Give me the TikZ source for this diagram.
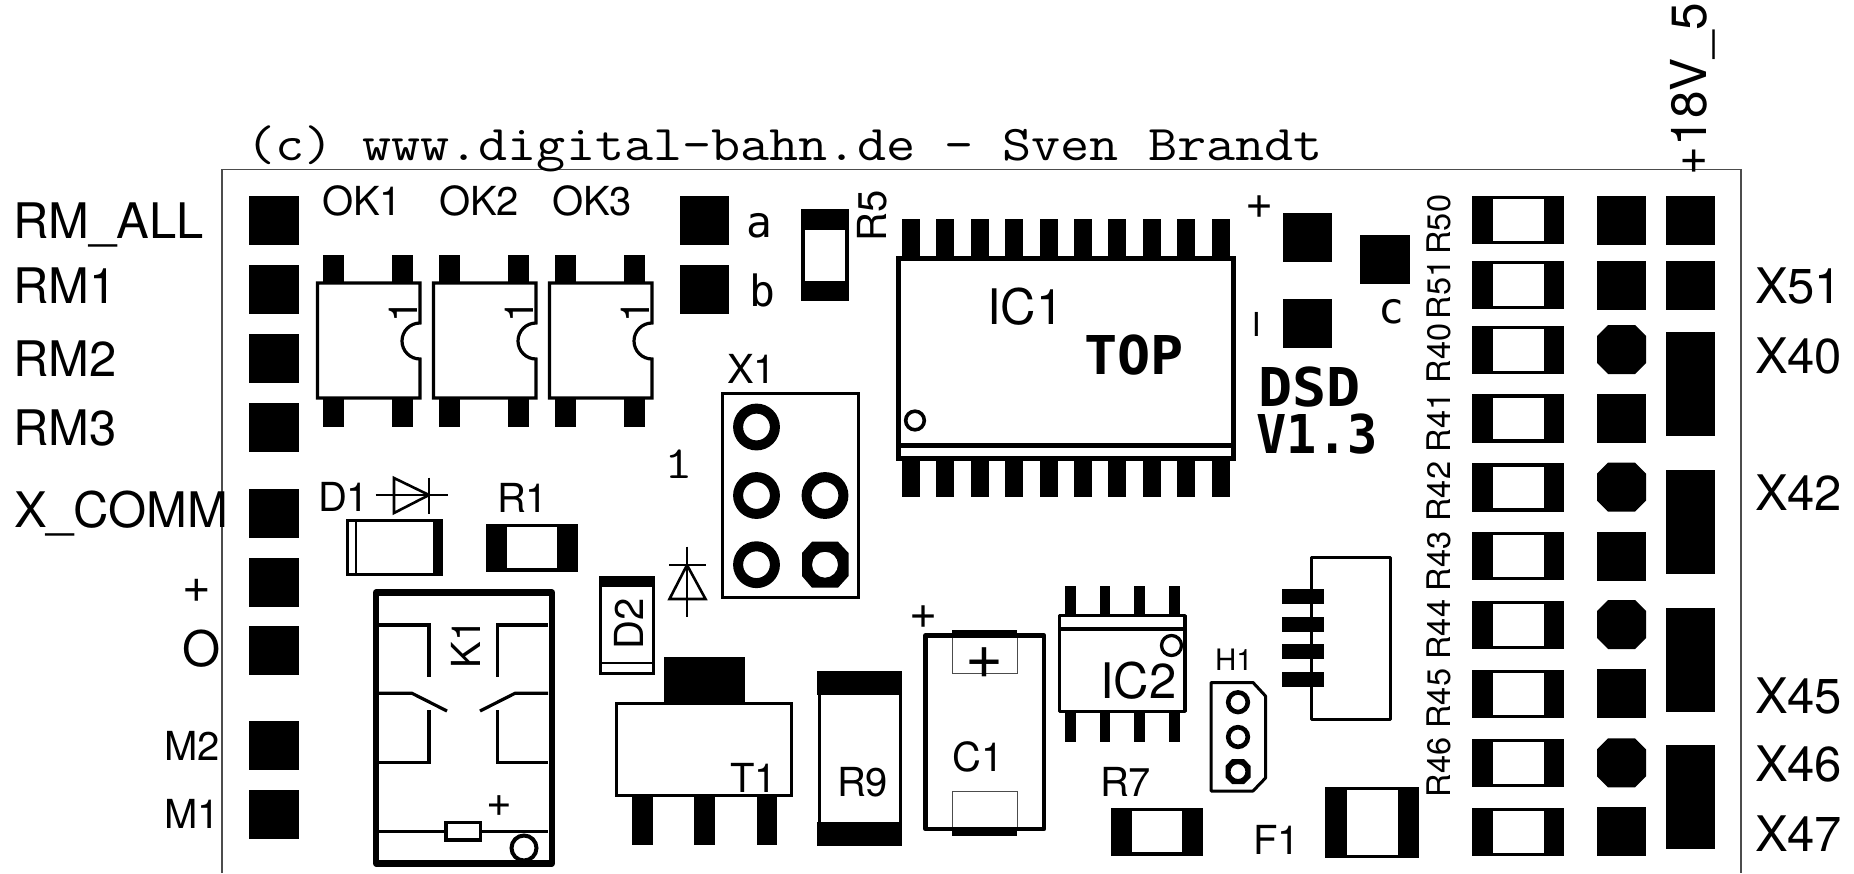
\documentclass[tikz,border=0pt]{standalone}
\usepackage{fontspec}
\setmainfont{TeX Gyre Heros}
\newfontfamily\vecfont{DejaVu Sans Mono}
\newcommand{\fsz}[1]{\fontsize{#1}{#1}\selectfont}
\newcommand{\pad}[4]{\fill (#1,#2) rectangle (#3,#4);}
% horizontal resistor: left, top, width, height, pad width
\newcommand{\resH}[5]{%
  \fill (#1,#2) rectangle ++(#5,#4);
  \fill (#1+#3-#5,#2) rectangle ++(#5,#4);
  \fill (#1,#2) rectangle ++(#3,3.4);
  \fill (#1,#2+#4-3.4) rectangle ++(#3,3.4);}
\newcommand{\octpad}[3]{% left, top, size is 49 x 49
  \fill (#1+11,#2) -- (#1+38,#2) -- (#1+49,#2+11) -- (#1+49,#2+38) -- (#1+38,#2+49)
        -- (#1+11,#2+49) -- (#1,#2+38) -- (#1,#2+11) -- cycle;}
\newcommand{\ring}[4]{\draw[line width=#4] (#1,#2) circle (#3pt);}
\tikzset{
  txt/.style={inner sep=0pt,outer sep=0pt,anchor=base west},
  big/.style={txt,font=\fsz{49}},
  med/.style={txt,font=\fsz{40}},
  sml/.style={txt,font=\fsz{32.5},rotate=90},
  vec/.style={inner sep=0pt,outer sep=0pt,anchor=base,font=\vecfont\bfseries\fsz{53.5}},
  vecl/.style={inner sep=0pt,outer sep=0pt,anchor=base west,font=\vecfont\fsz{43}},
  pen/.style={line width=3.2pt,line cap=rect,line join=miter},
  thk/.style={line width=5pt,line join=miter,line cap=rect},
  hair/.style={line width=1pt,draw=black!70}
}
\begin{document}
\begin{tikzpicture}[x=1pt,y=-1pt]
\useasboundingbox (0,0) rectangle (1854,873);
% board outline
\draw[line width=1.3pt,draw=black!70] (222,873) -- (222,169.7) -- (1741,169.7) -- (1741,873);
% title
\node[txt,font=\ttfamily\fsz{50},xscale=1.13] (title) at (246,160) {(c) www.digital-bahn.de - Sven Brandt};
% left labels
\node[big] (rmall) at (13,238) {RM\_ALL};
\node[big] (rm1) at (13,303) {RM1};
\node[big] (rm2) at (13,376.7) {RM2};
\node[big] (rm3) at (13,445) {RM3};
\node[big] (xcomm) at (14,527.7) {X\_COMM};
\node[big] (lplus) at (182,602) {+};
\node[big] (lo) at (182,666) {O};
\node[med] (m2) at (164,760) {M2};
\node[med] (m1) at (164,828) {M1};
% left pads
\foreach \y in {196,264.7,333.7,402.7,489,557.7,626,721,790} {\pad{249}{\y}{298.5}{\y+49}}
% optocouplers
\foreach \k/\dx/\nm in {1/0/OK1,2/116/OK2,3/232/OK3} {
  \fill (323.4+\dx,255) rectangle ++(20.8,27);
  \fill (392.4+\dx,255) rectangle ++(21,27);
  \fill (323.4+\dx,399) rectangle ++(20.8,28);
  \fill (392.4+\dx,399) rectangle ++(21,28);
  \draw[pen] (317.5+\dx,283) -- (420+\dx,283) -- (420+\dx,323) arc[start angle=270,end angle=90,radius=18] -- (420+\dx,398) -- (317.5+\dx,398) -- cycle;
  \node[med,rotate=90] (pin\k) at (417+\dx,322) {1};
}
\node[med] (ok1) at (322,215) {OK1};
\node[med] (ok2) at (439,215) {OK2};
\node[med] (ok3) at (552,215) {OK3};
% D1
\node[med] (d1t) at (318,511.7) {D1};
\draw[line width=2.6pt] (375.6,495) -- (447.6,495);
\draw[line width=2.6pt,line join=miter] (394,478) -- (429,495) -- (394,513) -- cycle;
\draw[line width=2.6pt] (429,477.5) -- (429,514);
\draw[line width=2.8pt] (347.4,520.7) rectangle (441.6,574.6);
\draw[line width=2.6pt] (356,520) -- (356,575);
\fill (433,519.3) rectangle (443,576);
% R1
\node[med] (r1t) at (497,512) {R1};
\resH{486.4}{523.5}{91.8}{48}{20.8}
% K1
\draw[line width=6.4pt,line join=round] (376.2,592.4) rectangle (551.8,863.4);
\begin{scope}[line width=3.2pt,line join=miter]
\draw (379,625) -- (429,625) -- (429,677.3);
\draw (548,625) -- (497.4,625) -- (497.4,677.3);
\draw (379,693.3) -- (412,693.3) -- (447,711);
\draw (548,693.3) -- (515,693.3) -- (480,711);
\draw (429,710) -- (429,762.7) -- (379,762.7);
\draw (497.4,710) -- (497.4,762.7) -- (548,762.7);
\draw (379,831.7) -- (445,831.7);
\draw (481.6,831.7) -- (548,831.7);
\draw (446,822.5) rectangle (480.6,840);
\end{scope}
\node[med,rotate=90] (k1t) at (480.5,668) {K1};
\node[txt,font=\fsz{44}] (kplus) at (486,816.7) {+};
\draw[line width=4pt] (524,848) circle (12.5pt);
% D2
\draw[line width=3pt] (600.5,577) rectangle (653.5,673);
\fill (599,576) rectangle (655,587);
\draw[line width=2.8pt] (600,663) -- (654,663);
\node[med,rotate=90] (d2t) at (643,649) {D2};
\draw[line width=2.4pt] (687,546.7) -- (687,616.7);
\draw[line width=2.8pt] (669,565) -- (706,565);
\draw[line width=2.6pt,line join=miter] (687,565) -- (705.5,599) -- (669.5,599) -- cycle;
% a, b pads and R5
\pad{680}{196}{728.8}{245}
\pad{680}{264.7}{728.8}{314}
\node[vecl] (la) at (746,237) {a};
\node[vecl] (lb) at (749,306.7) {b};
\fill (801,209) rectangle (849,229.5);
\fill (801,280.7) rectangle (849,301);
\fill (801,209) rectangle ++(3.6,92);
\fill (845.4,209) rectangle ++(3.6,92);
\node[med,rotate=90] (r5t) at (886,241) {R5};
% IC1
\foreach \i in {0,...,9} {
  \fill (902+\i*34.4,219.3) rectangle ++(18,39);
  \fill (902+\i*34.4,458) rectangle ++(18,38.7);
}
\draw[thk,line cap=round] (898.7,258) rectangle (1233.5,458);
\draw[line width=5pt] (898.7,445) -- (1233.5,445);
\node[big] (ic1t) at (987,324) {IC1};
\node[vec,xscale=1.03] (top) at (1134,374.3) {TOP};
\draw[line width=3.6pt] (915,420.5) circle (9.3pt);
% X1
\draw[line width=3.3pt] (722.6,393.5) rectangle (858.6,597.5);
\node[med] (x1t) at (727,383) {X1};
\node[inner sep=0pt,anchor=base,font=\ttfamily\fsz{46},xscale=1.2] (one) at (679,478) {1};
\ring{756.5}{427}{18.4}{10pt}
\ring{756.5}{495.5}{18.4}{10pt}
\ring{825}{495.5}{18.4}{10pt}
\ring{756.5}{564.7}{18.4}{10pt}
\begin{scope}[even odd rule]
\fill (812,541.7) -- (838,541.7) -- (848.5,553) -- (848.5,576) -- (838,587.7) -- (812,587.7) -- (802,576) -- (802,553) -- cycle
      (825,564.7) circle (13pt);
\end{scope}
% T1
\pad{664}{657}{745.4}{702}
\draw[pen,line cap=butt] (616.6,703.3) rectangle (791.4,795.4);
\pad{632}{796}{652.5}{845}
\pad{694.4}{796}{714.8}{845}
\pad{756.6}{796}{777}{845}
\node[med] (t1t) at (730,792) {T1};
% R9
\pad{817}{671}{902}{695}
\pad{817}{821.7}{902}{845.7}
\draw[line width=3pt] (819,690) -- (819,825);
\draw[line width=3pt] (900,690) -- (900,825);
\node[med] (r9t) at (837,796.7) {R9};
% C1
\draw[hair] (952,635) rectangle (1017,673);
\draw[hair] (952,791.7) rectangle (1017,830);
\pad{952}{630}{1017}{637}
\pad{952}{828}{1017}{835.7}
\draw[line width=4.8pt,line join=round] (925.5,635.5) rectangle (1044,829);
\node[inner sep=0pt,font=\fsz{65}] (cplus) at (984,663) {+};
\node[med] (c1t) at (952.5,771.7) {C1};
\node[inner sep=0pt,anchor=base,font=\fsz{48}] (caplus) at (923.3,628) {+};
% IC2
\foreach \x in {1065,1099.5,1134,1169} {
  \fill (\x,585.7) rectangle ++(10.8,28.3);
  \fill (\x,713) rectangle ++(10.8,29);
}
\draw[line width=3.4pt,line join=round] (1059.3,615.7) rectangle (1185,711.3);
\draw[line width=4pt] (1059,629.3) -- (1185,629.3);
\node[big] (ic2t) at (1100,698) {IC2};
\draw[line width=3.3pt] (1171.5,645.5) circle (10pt);
% H1
\node[txt,font=\fsz{29.5}] (h1t) at (1215,670) {H1};
\draw[line width=3pt,line join=round] (1211,682.5) -- (1253,682.5) -- (1265.5,696) -- (1265.5,778) -- (1253,791) -- (1211,791) -- cycle;
\ring{1238}{702.2}{9.8}{4.6pt}
\ring{1238}{737}{9.8}{4.6pt}
\begin{scope}[even odd rule]
\fill (1232,759) -- (1244,759) -- (1250.5,766) -- (1250.5,777.5) -- (1244,784) -- (1232,784) -- (1225.5,777.5) -- (1225.5,766) -- cycle
      (1238,771.6) circle (7.4pt);
\end{scope}
% connector
\draw[line width=3pt,line join=round] (1311.5,557) rectangle (1390.2,719);
\foreach \y in {589,616.7,644,671.7} {\pad{1282}{\y}{1324}{\y+15}}
% R7, F1
\node[med] (r7t) at (1100,796.7) {R7};
\resH{1111}{807.7}{92}{48}{20.6}
\node[med] (f1t) at (1253,854) {F1};
\resH{1325}{787}{94}{71}{21.5}
% power pads
\node[txt,font=\fsz{48}] (pplus) at (1245,218) {+};
\pad{1283}{213}{1332}{262}
\node[txt,font=\fsz{33}] (pminus) at (1251.5,336.7) {I};
\pad{1283}{299}{1332}{348}
\pad{1360}{234.7}{1409.5}{284}
\node[vecl] (lc) at (1378,323.3) {c};
\node[vec,xscale=1.06] (dsd) at (1309.5,406.7) {DSD};
\node[vec,xscale=.94] (ver) at (1317,453.3) {V1.3};
% right resistors
\foreach \y in {196,260.7,325.7,394.3,463.3,532,601,669.7,738.7,807.7} {\resH{1471.8}{\y}{92.4}{48.3}{20.7}}
\node[sml] (r50) at (1450,254.5) {R50};
\node[sml] (r51) at (1450,319) {R51};
\node[sml] (r40) at (1450,383) {R40};
\node[sml] (r41) at (1450,452) {R41};
\node[sml] (r42) at (1450,521.5) {R42};
\node[sml] (r43) at (1450,591) {R43};
\node[sml] (r44) at (1450,659.5) {R44};
\node[sml] (r45) at (1450,728.5) {R45};
\node[sml] (r46) at (1450,797) {R46};
% test pads column 1
\foreach \y in {196,260.7,394,531.7,669,806.7} {\pad{1597}{\y}{1646}{\y+49}}
\foreach \y in {325,462.7,600,738.3} {\octpad{1597}{\y}{}}
% column 2
\pad{1666}{196}{1715}{245}
\pad{1666}{260.7}{1715}{310}
\pad{1666}{332}{1715}{435.7}
\pad{1666}{470}{1715}{574}
\pad{1666}{607.7}{1715}{711.7}
\pad{1666}{745}{1715}{849}
% right labels
\node[big] (x51) at (1755,303) {X51};
\node[big] (x40) at (1755,373.3) {X40};
\node[big] (x42) at (1755,510) {X42};
\node[big] (x45) at (1755,713) {X45};
\node[big] (x46) at (1755,781) {X46};
\node[big] (x47) at (1755,851.7) {X47};
\node[txt,font=\fsz{49.5},rotate=90] (v18) at (1706,175) {+18V\_5};
\end{tikzpicture}
\end{document}
